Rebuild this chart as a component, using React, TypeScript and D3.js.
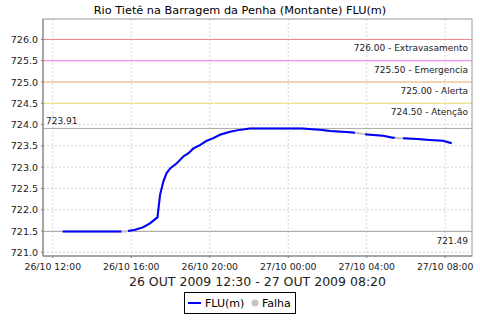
import React from 'react';
import * as d3 from 'd3';

const title = 'Rio Tietê na Barragem da Penha (Montante) FLU(m)';
const periodLabel = '26 OUT 2009 12:30 - 27 OUT 2009 08:20';

const times = [
  '2009-10-26T12:30', '2009-10-26T13:30', '2009-10-26T14:30', '2009-10-26T15:30', '2009-10-26T15:40',
  '2009-10-26T15:50', '2009-10-26T16:12', '2009-10-26T16:37', '2009-10-26T16:57', '2009-10-26T17:20',
  '2009-10-26T17:28', '2009-10-26T17:38', '2009-10-26T17:48', '2009-10-26T17:59', '2009-10-26T18:19',
  '2009-10-26T18:39', '2009-10-26T18:55', '2009-10-26T19:10', '2009-10-26T19:30', '2009-10-26T19:51',
  '2009-10-26T20:11', '2009-10-26T20:31', '2009-10-26T21:02', '2009-10-26T21:27', '2009-10-26T22:03',
  '2009-10-27T00:41', '2009-10-27T01:37', '2009-10-27T02:08', '2009-10-27T03:09', '2009-10-27T03:24',
  '2009-10-27T03:40', '2009-10-27T03:55', '2009-10-27T04:10', '2009-10-27T04:50', '2009-10-27T05:20',
  '2009-10-27T05:26', '2009-10-27T05:38', '2009-10-27T05:51', '2009-10-27T06:34', '2009-10-27T07:13',
  '2009-10-27T07:53', '2009-10-27T08:20',
];
const levels = [
  721.49, 721.49, 721.49, 721.49, 721.49,
  721.50, 721.53, 721.59, 721.68, 721.82,
  722.35, 722.66, 722.86, 722.97, 723.09,
  723.25, 723.33, 723.44, 723.52, 723.62,
  723.68, 723.76, 723.83, 723.87, 723.91,
  723.91, 723.88, 723.85, 723.82, 723.81,
  723.79, 723.77, 723.76, 723.74, 723.69,
  723.69, 723.68, 723.68, 723.66, 723.64,
  723.62, 723.56,
];
// 1 = "Falha" (failure) reading
const failures = [
  0, 0, 0, 0, 1,
  0, 0, 0, 0, 0,
  0, 0, 0, 0, 0,
  0, 0, 0, 0, 0,
  0, 0, 0, 0, 0,
  0, 0, 0, 0, 0,
  1, 0, 0, 0, 0,
  0, 1, 0, 0, 0,
  0, 0,
];

const yTicks = [721.0, 721.5, 722.0, 722.5, 723.0, 723.5, 724.0, 724.5, 725.0, 725.5, 726.0];
const xTickTimes = [
  '2009-10-26T12:00', '2009-10-26T16:00', '2009-10-26T20:00',
  '2009-10-27T00:00', '2009-10-27T04:00', '2009-10-27T08:00',
];
const xDomain = ['2009-10-26T11:30', '2009-10-27T09:22'];
const yDomain = [720.913, 726.48];

const thresholdValues = [726.0, 725.5, 725.0, 724.5];
const thresholdNames = ['Extravasamento', 'Emergencia', 'Alerta', 'Atenção'];
const thresholdColors = ['#ec8484', '#f07cf0', '#f4b070', '#ece070'];

const seriesName = 'FLU(m)';
const failName = 'Falha';

const FONT = '"DejaVu Sans", sans-serif';

export default function App() {
  const W = 480;
  const H = 320;
  const left = 43;
  const right = 472;
  const top = 19;
  const bottom = 256;

  const parse = d3.timeParse('%Y-%m-%dT%H:%M');
  const x = d3.scaleTime().domain(xDomain.map((s) => parse(s) as Date)).range([left, right]);
  const y = d3.scaleLinear().domain(yDomain).range([bottom, top]);
  const fmtX = d3.timeFormat('%d/%m %H:%M');

  const data = times.map((t, i) => ({ t: parse(t) as Date, v: levels[i], f: failures[i] === 1 }));

  const allLine = d3.line<any>().x((d) => x(d.t)).y((d) => y(d.v));
  const okLine = d3
    .line<any>()
    .defined((d) => !d.f)
    .x((d) => x(d.t))
    .y((d) => y(d.v));

  const minV = d3.min(levels) as number;
  const maxV = d3.max(levels) as number;

  return (
    <svg
      width={W}
      height={H}
      style={{ position: 'absolute', left: 0, top: 0, background: '#fff' }}
      fontFamily={FONT}
    >
      <rect x={0} y={0} width={W} height={H} fill="#fff" />
      <text x={240} y={14} textAnchor="middle" fontSize={11.3} fill="#000">
        {title}
      </text>

      {/* grid */}
      {yTicks.map((v) => (
        <line key={'gy' + v} x1={left} x2={right} y1={y(v)} y2={y(v)} stroke="#d4d4d4" strokeDasharray="2,2" />
      ))}
      {xTickTimes.map((s) => (
        <line key={'gx' + s} x1={x(parse(s) as Date)} x2={x(parse(s) as Date)} y1={top} y2={bottom} stroke="#d4d4d4" strokeDasharray="2,2" />
      ))}

      {/* thresholds */}
      {thresholdValues.map((v, i) => (
        <g key={'th' + v}>
          <line x1={left} x2={right} y1={y(v)} y2={y(v)} stroke={thresholdColors[i]} strokeWidth={1} />
          <text x={468} y={y(v) + 12} textAnchor="end" fontSize={9} fill="#222">
            {v.toFixed(2) + ' - ' + thresholdNames[i]}
          </text>
        </g>
      ))}

      {/* max / min markers */}
      <line x1={left} x2={right} y1={y(maxV)} y2={y(maxV)} stroke="#a8a8a8" />
      <text x={46} y={y(maxV) - 4.5} fontSize={9} fill="#222">
        {maxV.toFixed(2)}
      </text>
      <line x1={left} x2={right} y1={y(minV)} y2={y(minV)} stroke="#a8a8a8" />
      <text x={468} y={y(minV) + 12.5} textAnchor="end" fontSize={9} fill="#222">
        {minV.toFixed(2)}
      </text>

      {/* series */}
      <path d={allLine(data) as string} fill="none" stroke="#c4c4c4" strokeWidth={2} />
      <path d={okLine(data) as string} fill="none" stroke="#0000ff" strokeWidth={2} />

      {/* plot outline */}
      <rect x={left} y={top} width={right - left} height={bottom - top} fill="none" stroke="#9a9a9a" />
      <line x1={left} x2={left} y1={top} y2={bottom} stroke="#808080" />
      <line x1={left} x2={right} y1={bottom} y2={bottom} stroke="#808080" />

      {/* y axis */}
      {yTicks.map((v) => (
        <g key={'yt' + v}>
          <line x1={left - 2} x2={left} y1={y(v)} y2={y(v)} stroke="#808080" />
          <text x={38} y={y(v) + 3.5} textAnchor="end" fontSize={9.5} fill="#222">
            {v.toFixed(1)}
          </text>
        </g>
      ))}

      {/* x axis */}
      {xTickTimes.map((s) => {
        const px = x(parse(s) as Date);
        return (
          <g key={'xt' + s}>
            <line x1={px} x2={px} y1={bottom} y2={bottom + 2} stroke="#808080" />
            <text x={px} y={269.5} textAnchor="middle" fontSize={9.3} fill="#222">
              {fmtX(parse(s) as Date)}
            </text>
          </g>
        );
      })}

      <text x={(left + right) / 2} y={285.5} textAnchor="middle" fontSize={12.5} fill="#222">
        {periodLabel}
      </text>

      {/* legend */}
      <rect x={184.5} y={292.5} width={111} height={21} fill="#fff" stroke="#000" />
      <line x1={188} x2={201} y1={303} y2={303} stroke="#0000ff" strokeWidth={2} />
      <text x={205} y={307} fontSize={11} fill="#000">
        {seriesName}
      </text>
      <circle cx={255} cy={303} r={3.5} fill="#c4c4c4" />
      <text x={262} y={307} fontSize={11} fill="#000">
        {failName}
      </text>
    </svg>
  );
}
